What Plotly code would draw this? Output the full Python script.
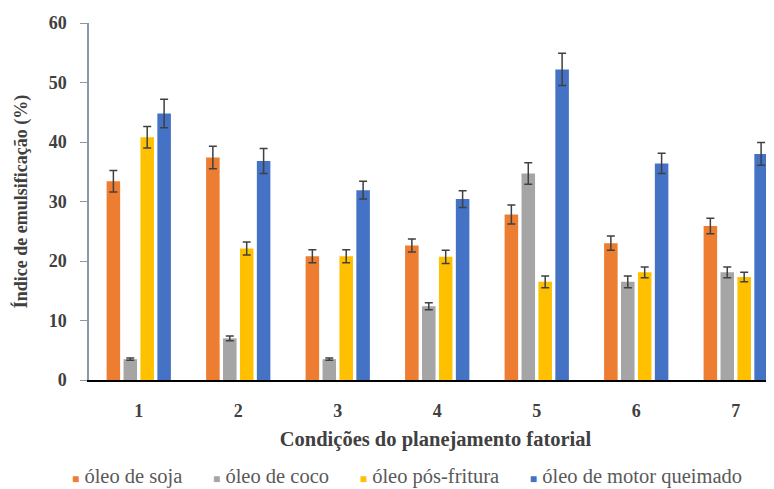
import plotly.graph_objects as go

categories = ["1", "2", "3", "4", "5", "6", "7"]
series_names = ["óleo de soja", "óleo de coco", "óleo pós-fritura", "óleo de motor queimado"]
soja = [33.4, 37.4, 20.8, 22.6, 27.8, 23.0, 25.9]
coco = [3.5, 7.0, 3.5, 12.4, 34.7, 16.5, 18.1]
pos_fritura = [40.8, 22.1, 20.8, 20.7, 16.5, 18.1, 17.3]
motor = [44.8, 36.8, 31.9, 30.4, 52.2, 36.4, 38.0]
err_soja = [1.8, 1.9, 1.1, 1.1, 1.6, 1.2, 1.3]
err_coco = [0.2, 0.4, 0.2, 0.6, 1.8, 1.0, 0.9]
err_pos = [1.8, 1.1, 1.1, 1.1, 1.0, 0.9, 0.8]
err_motor = [2.4, 2.1, 1.5, 1.4, 2.7, 1.7, 1.9]
y_ticks = [0, 10, 20, 30, 40, 50, 60]

colors = ["#ED7D31", "#A5A5A5", "#FFC000", "#4472C4"]
values = [soja, coco, pos_fritura, motor]
errors = [err_soja, err_coco, err_pos, err_motor]

fig = go.Figure()
for name, v, e, c in zip(series_names, values, errors, colors):
    fig.add_trace(go.Bar(
        x=categories, y=v, name=name, marker_color=c, marker_line_width=0,
        showlegend=False,
        error_y=dict(type="data", array=e, visible=True, color="#404040",
                     thickness=1.5, width=4),
    ))

# legend drawn as a single text line (symbol glyphs + names)
gap = "&nbsp;" * 6
legend_text = gap.join(
    f"<span style='color:{c};font-size:12px'>■</span> {n}"
    for n, c in zip(series_names, colors)
)
fig.add_annotation(
    text=legend_text, xref="paper", yref="paper", x=0.459, y=-0.269,
    xanchor="center", yanchor="middle", showarrow=False,
    font=dict(family="Liberation Serif", size=20.5, color="#595959"),
)

serif = "Liberation Serif"
fig.update_layout(
    width=774, height=489,
    margin=dict(l=81, r=0, t=15, b=117),
    paper_bgcolor="white", plot_bgcolor="white",
    barmode="group", bargap=0.32, bargroupgap=0.2,
    font=dict(family=serif, color="#404040"),
    showlegend=False,
    xaxis=dict(
        type="category", range=[-0.5, 6.465], showgrid=False, showline=True,
        linecolor="black", linewidth=2, ticks="", ticklabelstandoff=13,
        automargin=False,
        tickfont=dict(family=serif, size=18, color="#404040", weight="bold"),
        title=dict(text="<b>Condições do planejamento fatorial</b>",
                   font=dict(family=serif, size=20.5, color="#404040"), standoff=12),
    ),
    yaxis=dict(
        range=[0, 60], tickvals=y_ticks, showgrid=False, zeroline=False,
        showline=True, linecolor="#8898A8", linewidth=1.5,
        ticks="outside", ticklen=7, tickcolor="#8898A8",
        ticklabelstandoff=10, automargin=False,
        tickfont=dict(family=serif, size=18, color="#404040", weight="bold"),
        title=dict(text="<b>Índice de emulsificação (%)</b>",
                   font=dict(family=serif, size=18, color="#404040"), standoff=16),
    ),
)

fig.write_html("out.html")
